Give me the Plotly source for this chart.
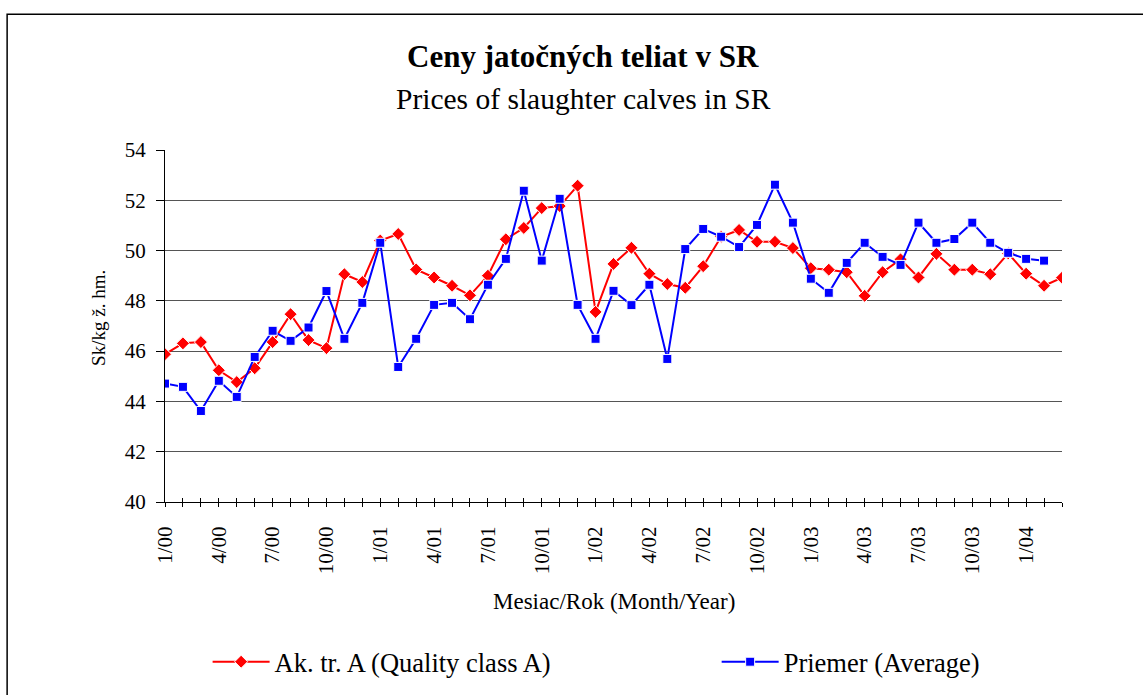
import plotly.graph_objects as go

months = ["1/00", "2/00", "3/00", "4/00", "5/00", "6/00", "7/00", "8/00", "9/00", "10/00", "11/00", "12/00",
          "1/01", "2/01", "3/01", "4/01", "5/01", "6/01", "7/01", "8/01", "9/01", "10/01", "11/01", "12/01",
          "1/02", "2/02", "3/02", "4/02", "5/02", "6/02", "7/02", "8/02", "9/02", "10/02", "11/02", "12/02",
          "1/03", "2/03", "3/03", "4/03", "5/03", "6/03", "7/03", "8/03", "9/03", "10/03", "11/03", "12/03",
          "1/04", "2/04", "3/04"]

tick_labels = ["1/00", "", "", "4/00", "", "", "7/00", "", "", "10/00", "", "",
               "1/01", "", "", "4/01", "", "", "7/01", "", "", "10/01", "", "",
               "1/02", "", "", "4/02", "", "", "7/02", "", "", "10/02", "", "",
               "1/03", "", "", "4/03", "", "", "7/03", "", "", "10/03", "", "",
               "1/04", "", ""]

quality_a = [45.88, 46.31, 46.36, 45.24, 44.77, 45.32, 46.36, 47.47, 46.44, 46.12, 49.06, 48.75,
             50.40, 50.66, 49.25, 48.93, 48.60, 48.22, 49.00, 50.45, 50.90, 51.69, 51.77, 52.58,
             47.56, 49.47, 50.11, 49.08, 48.67, 48.52, 49.38, 50.55, 50.82, 50.35, 50.35, 50.10,
             49.30, 49.24, 49.14, 48.20, 49.14, 49.65, 48.93, 49.87, 49.24, 49.24, 49.06, 49.89,
             49.08, 48.60, 48.92]

average = [44.71, 44.58, 43.62, 44.82, 44.18, 45.77, 46.81, 46.41, 46.94, 48.39, 46.49, 47.92,
           50.31, 45.37, 46.49, 47.84, 47.92, 47.27, 48.64, 49.67, 52.38, 49.60, 52.06, 47.84,
           46.49, 48.40, 47.83, 48.64, 45.69, 50.06, 50.86, 50.55, 50.14, 51.02, 52.62, 51.11,
           48.88, 48.32, 49.51, 50.31, 49.75, 49.43, 51.11, 50.31, 50.46, 51.11, 50.31, 49.91,
           49.67, 49.60]

y_ticks = [40, 42, 44, 46, 48, 50, 52, 54]

SERIF = "Liberation Serif, Times New Roman, serif"

fig = go.Figure()
fig.add_trace(go.Scatter(
    x=months[:len(quality_a)], y=quality_a, mode="lines+markers",
    name="Ak. tr. A (Quality class A)", legend="legend",
    line=dict(color="#ff0000", width=2),
    marker=dict(symbol="diamond", size=10, color="#ff0000", line=dict(color="white", width=1)),
))
fig.add_trace(go.Scatter(
    x=months[:len(average)], y=average, mode="lines+markers",
    name="Priemer (Average)", legend="legend2",
    line=dict(color="#0000ff", width=2),
    marker=dict(symbol="square", size=9, color="#0000ff", line=dict(color="white", width=1)),
))

legend_common = dict(orientation="h", y=-0.4545, xanchor="left", yanchor="middle",
                     font=dict(size=26.5, family=SERIF), itemwidth=57,
                     bgcolor="rgba(0,0,0,0)")

fig.update_layout(
    width=1143, height=695,
    margin=dict(l=165, r=81, t=150, b=193, autoexpand=False),
    paper_bgcolor="white", plot_bgcolor="white",
    font=dict(family=SERIF, color="black"),
    showlegend=True,
    legend=dict(x=0.0475, **legend_common),
    legend2=dict(x=0.615, **legend_common),
    xaxis=dict(
        type="category", categoryorder="array", categoryarray=months,
        range=[0, len(months) - 1],
        tickmode="array", tickvals=months, ticktext=tick_labels,
        tickangle=-90, tickfont=dict(size=21, family=SERIF),
        ticks="outside", ticklen=4, tickcolor="black", tickwidth=1,
        showline=True, linecolor="black", linewidth=1,
        showgrid=False, zeroline=False, ticklabelstandoff=11,
    ),
    xaxis2=dict(
        type="category", categoryorder="array", categoryarray=months,
        range=[0, len(months) - 1], overlaying="x", anchor="y",
        tickmode="array", tickvals=months, ticktext=[""] * len(months),
        ticks="inside", ticklen=4, tickcolor="black", tickwidth=1,
        showline=False, showgrid=False, zeroline=False, showticklabels=False,
    ),
    yaxis=dict(
        range=[40, 54], tickmode="array", tickvals=y_ticks,
        tickfont=dict(size=21, family=SERIF),
        ticks="outside", ticklen=8, tickcolor="black", tickwidth=1,
        showline=True, linecolor="black", linewidth=1,
        showgrid=True, gridcolor="#555555", gridwidth=1,
        zeroline=False, ticklabelstandoff=6,
    ),
)

# invisible trace so the overlay axis is drawn
fig.add_trace(go.Scatter(x=months[:1], y=[None], xaxis="x2", showlegend=False, hoverinfo="skip"))

fig.add_annotation(text="<b>Ceny jatočných teliat v SR</b>", xref="paper", yref="paper",
                   x=0.466, y=1.265, showarrow=False, font=dict(size=31, family=SERIF),
                   xanchor="center", yanchor="middle")
fig.add_annotation(text="Prices of slaughter calves in SR", xref="paper", yref="paper",
                   x=0.466, y=1.145, showarrow=False, font=dict(size=29.5, family=SERIF),
                   xanchor="center", yanchor="middle")
fig.add_annotation(text="Mesiac/Rok (Month/Year)", xref="paper", yref="paper",
                   x=0.5, y=-0.284, showarrow=False, font=dict(size=23, family=SERIF),
                   xanchor="center", yanchor="middle")
fig.add_annotation(text="Sk/kg ž. hm.", xref="paper", yref="paper",
                   x=-0.0736, y=0.523, showarrow=False, textangle=-90,
                   font=dict(size=19, family=SERIF), xanchor="center", yanchor="middle")

fig.add_shape(type="rect", xref="paper", yref="paper",
              x0=-0.176, x1=1.2, y0=-0.7, y1=1.386,
              line=dict(color="black", width=1.5), fillcolor="rgba(0,0,0,0)", layer="below")

fig.write_html("out.html", config={"displayModeBar": False},
               post_script="document.body.style.margin='0';")
